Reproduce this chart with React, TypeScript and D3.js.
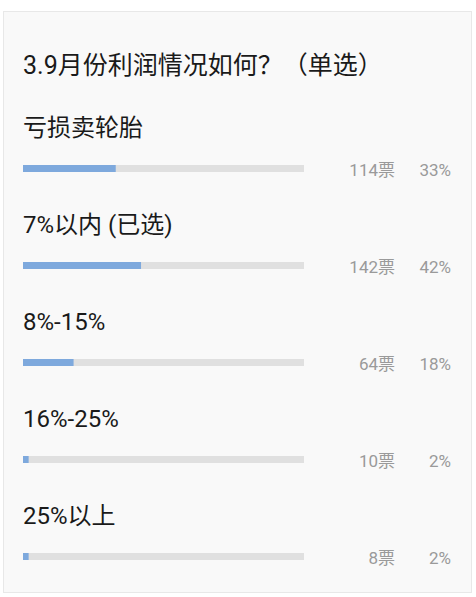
import { useEffect, useRef } from 'react';
import * as d3 from 'd3';

const title = '3.9月份利润情况如何？（单选）';
const categories = ['亏损卖轮胎', '7%以内 (已选)', '8%-15%', '16%-25%', '25%以上'];
const votes = [114, 142, 64, 10, 8];
const percents = [33, 42, 18, 2, 2];

export default function App() {
  const ref = useRef<SVGSVGElement | null>(null);

  useEffect(() => {
    const width = 476;
    const height = 597;
    const svg = d3.select(ref.current);
    svg.selectAll('*').remove();
    svg.attr('width', width).attr('height', height);

    const font = 'Roboto, "Noto Sans CJK SC", sans-serif';

    // card
    svg
      .append('rect')
      .attr('width', width)
      .attr('height', height)
      .attr('fill', '#ffffff');
    svg
      .append('rect')
      .attr('x', 3.5)
      .attr('y', 11.5)
      .attr('width', 468)
      .attr('height', 581)
      .attr('fill', '#f9f9f9')
      .attr('stroke', '#e8e8e8')
      .attr('stroke-width', 1);

    svg
      .append('text')
      .attr('x', 23)
      .attr('y', 65)
      .attr('dominant-baseline', 'central')
      .style('font-family', font)
      .style('font-size', '25px')
      .style('fill', '#1a1a1a')
      .text(title);

    const y = d3
      .scalePoint<string>()
      .domain(categories)
      .range([128, 128 + 97 * (categories.length - 1)]);

    const x = d3.scaleLinear().domain([0, 100]).range([0, 281]);
    const barX = 23;
    const barOffset = 37;
    const barH = 7;

    const rows = svg
      .selectAll('g.row')
      .data(categories.map((c, i) => ({ c, v: votes[i], p: percents[i] })))
      .enter()
      .append('g')
      .attr('class', 'row')
      .attr('transform', (d) => `translate(0,${y(d.c)})`);

    rows
      .append('text')
      .attr('x', barX)
      .attr('y', 0)
      .attr('dominant-baseline', 'central')
      .style('font-family', font)
      .style('font-size', '24px')
      .style('fill', '#1a1a1a')
      .text((d) => d.c);

    rows
      .append('rect')
      .attr('x', barX)
      .attr('y', barOffset)
      .attr('width', x(100))
      .attr('height', barH)
      .attr('fill', '#e0e0e0');

    rows
      .append('rect')
      .attr('x', barX)
      .attr('y', barOffset)
      .attr('width', (d) => x(d.p))
      .attr('height', barH)
      .attr('fill', '#7ea9dd');

    rows
      .append('text')
      .attr('x', 395)
      .attr('y', barOffset + 5)
      .attr('text-anchor', 'end')
      .attr('dominant-baseline', 'central')
      .style('font-family', font)
      .style('font-size', '17px')
      .style('fill', '#9a9a9a')
      .text((d) => `${d.v}票`);

    rows
      .append('text')
      .attr('x', 451)
      .attr('y', barOffset + 5)
      .attr('text-anchor', 'end')
      .attr('dominant-baseline', 'central')
      .style('font-family', font)
      .style('font-size', '17px')
      .style('fill', '#9a9a9a')
      .text((d) => `${d.p}%`);
  }, []);

  return (
    <svg
      ref={ref}
      style={{ position: 'absolute', left: 0, top: 0, display: 'block' }}
    />
  );
}
